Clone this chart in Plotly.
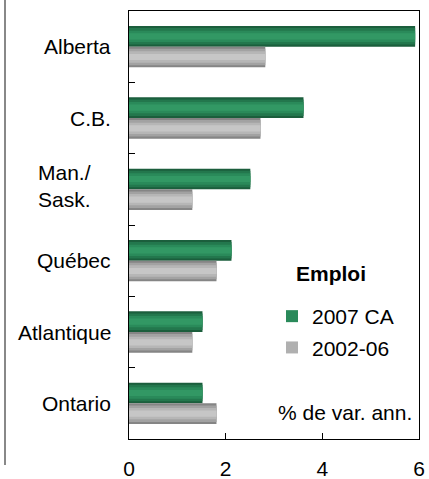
import plotly.graph_objects as go

# ---- data ----
regions = ["Alberta", "C.B.", "Man./Sask.", "Québec", "Atlantique", "Ontario"]
region_labels = ["Alberta", "C.B.", "Man./<br>Sask.", "Québec", "Atlantique", "Ontario"]
emploi_2007_ca = [5.92, 3.61, 2.51, 2.12, 1.52, 1.52]
emploi_2002_06 = [2.82, 2.72, 1.31, 1.81, 1.31, 1.81]
series_names = ["2007 CA", "2002-06"]
x_tick_values = [0, 2, 4, 6]
legend_title = "Emploi"
unit_note = "% de var. ann."

FONT = "Liberation Sans, Arial, sans-serif"
FS = 21

# gradient layers (fraction of bar thickness, colour), outer -> inner
green_layers = [(1.0, "#1b5e3c"), (0.8, "#23774d"), (0.55, "#2a8a5a"), (0.3, "#329864")]
gray_layers = [(1.0, "#858585"), (0.8, "#a2a2a2"), (0.55, "#b6b6b6"), (0.3, "#c6c6c6")]

BAR_W = 0.29
series = [
    (series_names[0], emploi_2007_ca, -BAR_W, green_layers, "#2a8a5a"),
    (series_names[1], emploi_2002_06, 0.0, gray_layers, "#b0b0b0"),
]

fig = go.Figure()
for i, (name, vals, off, layers, legend_col) in enumerate(series):
    for j, (frac, col) in enumerate(layers):
        w = BAR_W * frac
        o = off + BAR_W * (1 - frac) / 2
        fig.add_trace(go.Bar(
            y=regions, x=vals, orientation="h",
            width=w, offset=o,
            marker=dict(color=col, line=dict(width=0)),
            name=name, showlegend=False, legendgroup=name,
            hoverinfo="skip" if j else None,
        ))
    # legend-only entry
    fig.add_trace(go.Bar(
        y=[None], x=[None], orientation="h",
        marker=dict(color=legend_col, line=dict(width=0)),
        name=name, showlegend=True, legendgroup=name,
    ))

annotations = []
for cat, lab in zip(regions, region_labels):
    if "<br>" in lab:
        annotations.append(dict(x=(36 - 129) / 290, y=cat, xref="paper", yref="y",
                                text=lab, showarrow=False, xanchor="left", align="left",
                                yshift=3, font=dict(family=FONT, size=FS, color="black")))
    else:
        annotations.append(dict(x=(113 - 129) / 290, y=cat, xref="paper", yref="y",
                                text=lab, showarrow=False, xanchor="right",
                                font=dict(family=FONT, size=FS, color="black")))

annotations.append(dict(x=(294 - 129) / 290, y=(439 - 273) / 428, xref="paper", yref="paper",
                        text="<b>" + legend_title + "</b>", showarrow=False,
                        xanchor="left", yanchor="middle",
                        font=dict(family=FONT, size=FS, color="black")))
annotations.append(dict(x=(414 - 129) / 290, y=(439 - 412) / 428, xref="paper", yref="paper",
                        text=unit_note, showarrow=False, xanchor="right", yanchor="middle",
                        font=dict(family=FONT, size=FS, color="black")))

fig.update_layout(
    width=429, height=479,
    margin=dict(l=129, r=10, t=11, b=40, autoexpand=False),
    paper_bgcolor="white", plot_bgcolor="white",
    barmode="overlay",
    font=dict(family=FONT, size=FS, color="black"),
    showlegend=True,
    legend=dict(
        x=(272 - 129) / 290, y=(439 - 296) / 428, xanchor="left", yanchor="top",
        traceorder="grouped", tracegroupgap=1,
        bgcolor="rgba(0,0,0,0)", font=dict(family=FONT, size=FS, color="black"),
    ),
    xaxis=dict(
        range=[0, 6], tickvals=x_tick_values, ticks="inside", ticklen=6,
        tickcolor="black", showline=True, linecolor="black", linewidth=1,
        mirror=True, showgrid=False, zeroline=False, ticklabelstandoff=11,
        automargin=False,
        tickfont=dict(family=FONT, size=FS, color="black"),
    ),
    yaxis=dict(
        type="category", categoryorder="array", categoryarray=regions,
        range=[5.5, -0.5], ticks="inside", ticklen=6, tickson="boundaries",
        tickcolor="black", showline=True, linecolor="black", linewidth=1,
        mirror=True, showgrid=False, showticklabels=False, automargin=False,
    ),
    annotations=annotations,
    shapes=[dict(type="line", xref="paper", yref="paper",
                 x0=(5 - 129) / 290, x1=(5 - 129) / 290,
                 y0=(439 + 0) / 428, y1=-(465 - 439) / 428,
                 line=dict(color="#888888", width=2))],
)

fig.write_html(
    "out.html",
    config={"responsive": False, "displayModeBar": False},
    post_script="document.body.style.margin='0';",
)
